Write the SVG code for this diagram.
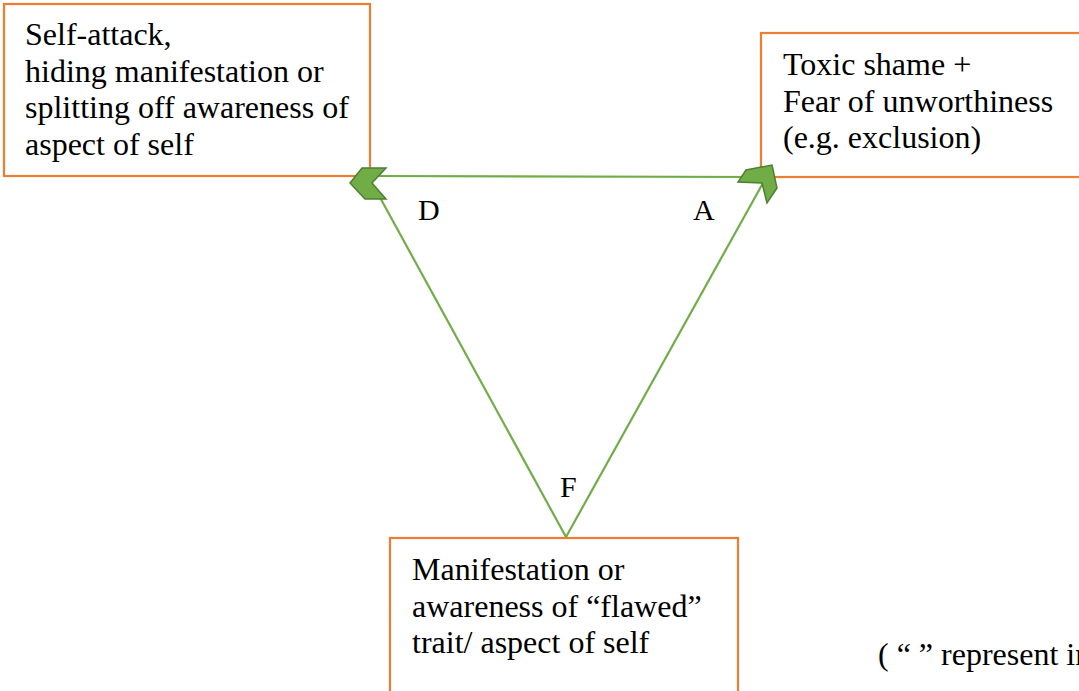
<svg xmlns="http://www.w3.org/2000/svg" width="1079" height="691" viewBox="0 0 1079 691">
  <style>
    .box { fill: #ffffff; stroke: #ed7d31; stroke-width: 2.2; }
    .txt { font-size: 32px; fill: #000000; }
    .lbl { font-size: 30px; fill: #000000; }
    .line { stroke: #70ad47; stroke-width: 2.2; fill: none; }
    .head { fill: #70ad47; stroke: #507e32; stroke-width: 1.5; stroke-linejoin: miter; }
  </style>
  <rect x="0" y="0" width="1079" height="691" fill="#ffffff"/>

  <g font-family="'Liberation Serif', 'DejaVu Serif', serif">
  <g id="node-D">
    <rect class="box" x="4" y="4" width="366" height="172"/>
    <text class="txt" x="25" y="45">Self-attack,</text>
    <text class="txt" x="25" y="82">hiding manifestation or</text>
    <text class="txt" x="25" y="118">splitting off awareness of</text>
    <text class="txt" x="25" y="155">aspect of self</text>
  </g>

  <g id="node-A">
    <rect class="box" x="761" y="33" width="330" height="144"/>
    <text class="txt" x="783" y="75">Toxic shame +</text>
    <text class="txt" x="783" y="112">Fear of unworthiness</text>
    <text class="txt" x="783" y="148">(e.g. exclusion)</text>
  </g>

  <g id="node-F">
    <rect class="box" x="390" y="538" width="348" height="170"/>
    <text class="txt" x="412" y="580">Manifestation or</text>
    <text class="txt" x="412" y="617">awareness of “flawed”</text>
    <text class="txt" x="412" y="653">trait/ aspect of self</text>
  </g>

  <g id="connectors">
    <line class="line" x1="372" y1="176" x2="762" y2="177"/>
    <line class="line" x1="566" y1="537" x2="377" y2="192"/>
    <line class="line" x1="566" y1="537" x2="763" y2="183"/>
    <polygon class="head" points="350,183 362,168 386,168 372,183 386,199 365,199"/>
    <polygon class="head" points="772,165 777,188 767,203 762,183 738,182 746,170"/>
  </g>

  <g id="labels">
    <text class="lbl" x="418" y="220">D</text>
    <text class="lbl" x="693" y="220">A</text>
    <text class="lbl" x="560" y="497">F</text>
    <text class="txt" x="878" y="665">( “ ” represent in</text>
  </g>
  </g>
</svg>
